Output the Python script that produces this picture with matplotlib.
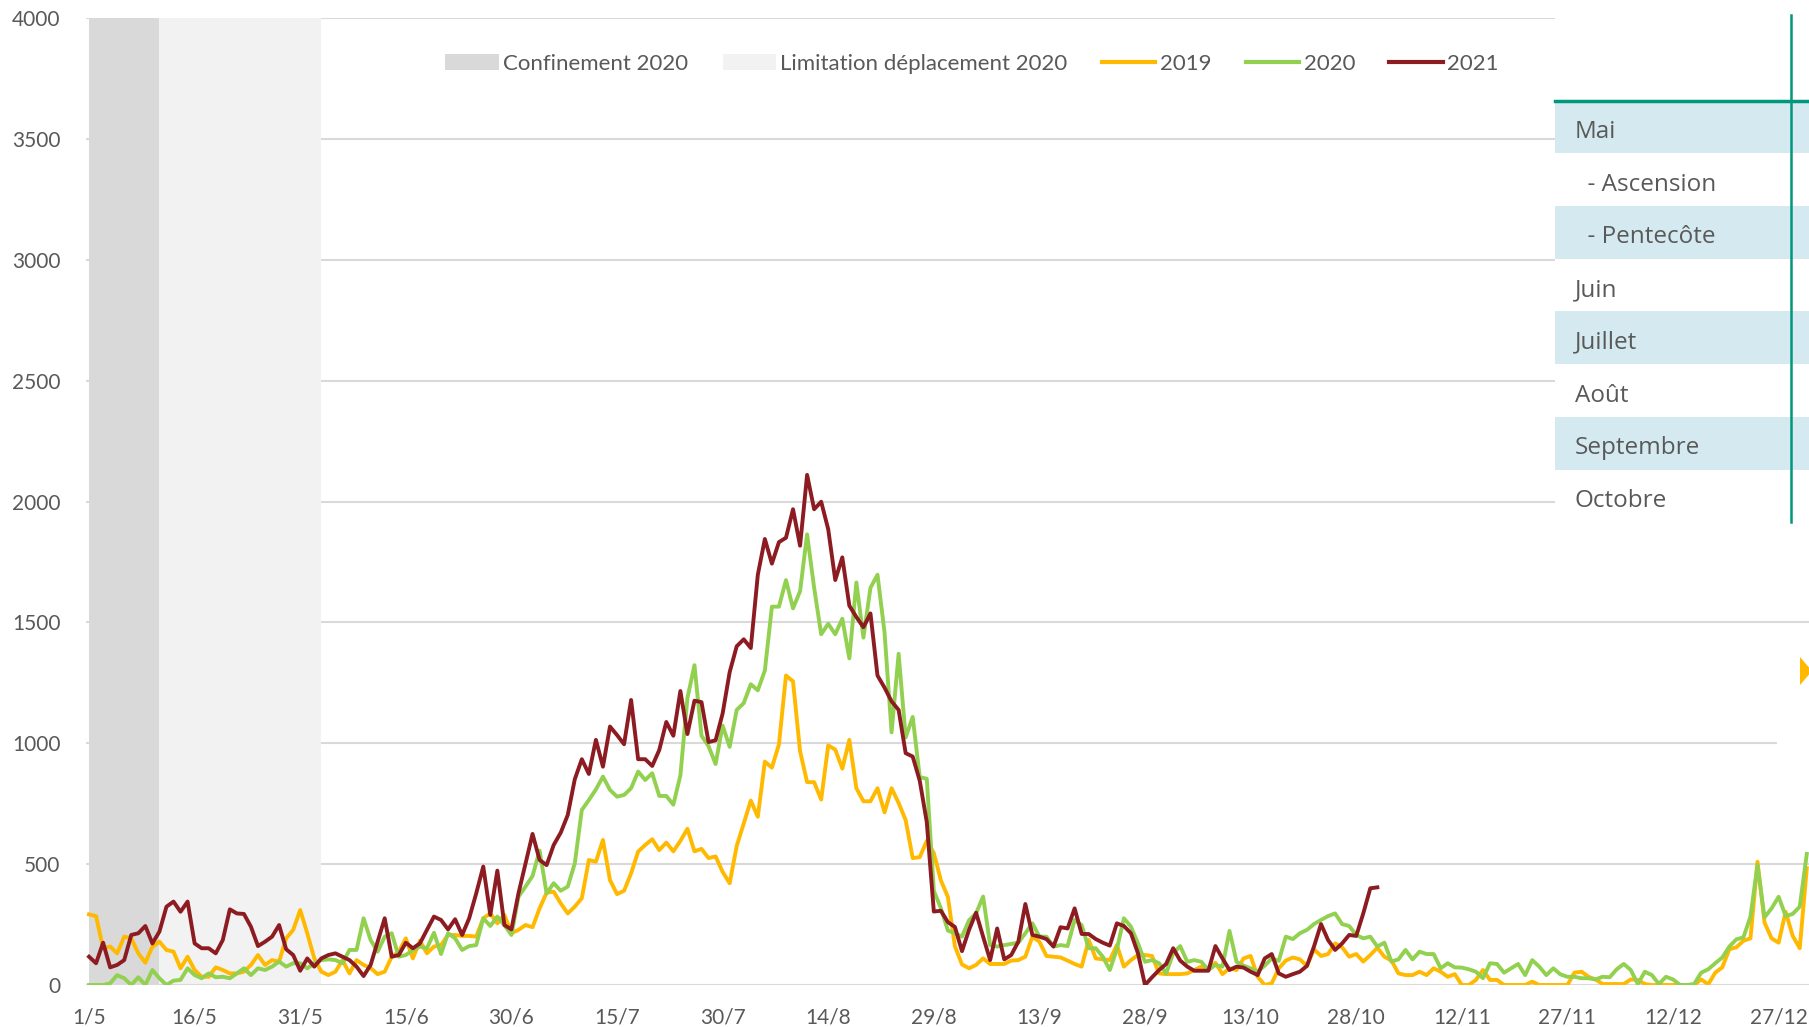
import matplotlib
matplotlib.use("Agg")
import matplotlib.pyplot as plt
from matplotlib.patches import Rectangle, Polygon, Patch
from matplotlib.lines import Line2D
import pandas as pd

# ---------- data -------------------------------------------------------------
dates = pd.date_range("2021-05-01", "2021-12-31", freq="D")

v2019 = [292, 285, 152, 159, 131, 200, 193, 131, 92, 159, 179, 145, 138, 69, 117, 62, 34, 34, 73, 62,
         48, 48, 55, 83, 124, 83, 103, 97, 193, 228, 310, 214, 110, 55, 41, 55, 103, 48, 103, 83,
         70, 45, 55, 117, 138, 193, 110, 183, 131, 159, 165, 207, 207, 203, 203, 200, 276, 296, 255, 290,
         214, 228, 248, 239, 317, 382, 386, 338, 296, 324, 359, 517, 510, 600, 434, 376, 390, 462, 552, 579,
         603, 558, 589, 553, 596, 646, 553, 563, 525, 532, 468, 421, 575, 668, 763, 696, 924, 899, 995, 1280,
         1256, 967, 839, 839, 767, 991, 974, 895, 1014, 814, 760, 760, 814, 714, 814, 753, 682, 525, 529, 596,
         546, 433, 364, 160, 85, 69, 83, 110, 87, 87, 87, 101, 103, 117, 200, 179, 120, 117, 114, 101,
         87, 76, 186, 110, 106, 103, 165, 76, 103, 124, 124, 120, 48, 45, 45, 45, 48, 62, 76, 62,
         92, 45, 69, 62, 110, 120, 34, 0, 7, 69, 101, 114, 106, 79, 148, 120, 128, 172, 156, 117,
         128, 97, 124, 154, 117, 101, 48, 41, 41, 55, 41, 69, 55, 34, 45, 0, 0, 21, 62, 21,
         21, 0, 0, 0, 0, 14, 0, 0, 0, 0, 0, 51, 55, 34, 23, 4, 4, 4, 4, 23,
         21, 4, 0, 0, 0, 0, 0, 0, 0, 23, 3, 51, 73, 148, 156, 183, 193, 510, 258, 193,
         175, 303, 203, 152, 483]

v2020 = [0, 0, 0, 7, 41, 28, 0, 32, 0, 62, 28, 0, 18, 21, 69, 41, 28, 48, 32, 34,
         28, 48, 69, 41, 69, 62, 76, 97, 76, 90, 90, 69, 90, 103, 106, 103, 90, 145, 145, 276,
         186, 138, 200, 214, 117, 124, 145, 159, 152, 216, 128, 214, 193, 145, 161, 165, 276, 244, 283, 248,
         207, 365, 407, 451, 556, 379, 421, 390, 407, 503, 724, 765, 809, 862, 807, 779, 786, 814, 883, 848,
         876, 782, 782, 746, 867, 1187, 1323, 1031, 988, 914, 1073, 985, 1138, 1166, 1244, 1219, 1301, 1565, 1565, 1675,
         1558, 1629, 1864, 1643, 1451, 1494, 1451, 1515, 1351, 1665, 1437, 1643, 1697, 1458, 1045, 1370, 1024, 1109, 860, 853,
         390, 318, 225, 214, 200, 268, 296, 366, 165, 159, 165, 170, 175, 214, 255, 200, 200, 159, 165, 161,
         269, 248, 152, 152, 117, 62, 148, 276, 241, 172, 96, 103, 90, 48, 131, 161, 96, 103, 96, 62,
         83, 76, 224, 96, 80, 69, 55, 80, 110, 100, 200, 190, 214, 228, 252, 269, 285, 296, 252, 244,
         207, 193, 200, 159, 175, 97, 106, 145, 106, 138, 128, 128, 69, 90, 73, 72, 65, 55, 28, 90,
         87, 51, 69, 87, 41, 103, 76, 41, 69, 44, 34, 34, 28, 28, 23, 34, 32, 65, 87, 62,
         4, 55, 41, 4, 34, 23, 0, 0, 4, 51, 65, 90, 114, 159, 189, 197, 283, 496, 280, 317,
         365, 285, 294, 324, 542]

v2021 = [117, 90, 175, 73, 83, 103, 207, 214, 244, 172, 221, 324, 345, 303, 345, 172, 152, 152, 131, 186,
         313, 296, 294, 241, 161, 179, 200, 248, 148, 124, 59, 110, 76, 110, 124, 131, 117, 103, 76, 37,
         83, 179, 276, 117, 124, 175, 152, 172, 228, 283, 269, 230, 272, 207, 276, 379, 490, 290, 473, 248,
         230, 379, 503, 625, 517, 496, 579, 630, 703, 851, 934, 873, 1014, 903, 1069, 1034, 996, 1179, 934, 934,
         906, 972, 1088, 1031, 1216, 1038, 1176, 1170, 1005, 1012, 1123, 1294, 1401, 1430, 1394, 1697, 1845, 1743, 1832, 1850,
         1968, 1817, 2110, 1968, 1999, 1885, 1675, 1769, 1569, 1522, 1480, 1537, 1280, 1230, 1173, 1138, 959, 945, 845, 674,
         304, 307, 260, 240, 140, 228, 299, 200, 103, 234, 106, 124, 179, 335, 207, 200, 190, 159, 239, 234,
         317, 211, 211, 190, 175, 163, 255, 244, 214, 131, 0, 32, 62, 87, 152, 101, 76, 59, 59, 59,
         161, 110, 62, 76, 72, 55, 41, 110, 128, 48, 34, 45, 55, 79, 159, 252, 186, 145, 172, 207,
         203, 296, 400, 404]

confinement = ("2021-05-01", "2021-05-11")
limitation = ("2021-05-11", "2021-06-03")
table_rows = ["Mai", "  - Ascension", "  - Pentecôte", "Juin", "Juillet", "Août", "Septembre", "Octobre"]

# ---------- style -------------------------------------------------------------
W, H = 1809, 1027
GREY = "#595959"
GRID = "#D9D9D9"
C19, C20, C21 = "#FFB900", "#92D050", "#8C1C21"
TEAL = "#00977A"
SHADE = "#D5EAF0"
plt.rcParams["font.family"] = ["Lato", "DejaVu Sans"]


def fx(x):
    return x / W


def fy(y):
    return 1 - y / H


fig = plt.figure(figsize=(W / 100, H / 100), dpi=100)
ax = fig.add_axes([fx(85.5), fy(985), fx(1810.3) - fx(85.5), fy(18) - fy(985)])

d0 = pd.Timestamp(dates[0])
ax.set_xlim(d0 - pd.Timedelta(hours=12), pd.Timestamp(dates[-1]) + pd.Timedelta(hours=12))
ax.set_ylim(0, 4000)

for yv in range(500, 4001, 500):
    ax.axhline(yv, color=GRID, lw=1.5, zorder=0.5)

ax.axvspan(pd.Timestamp(confinement[0]), pd.Timestamp(confinement[1]), color="#D9D9D9", lw=0, zorder=1)
ax.axvspan(pd.Timestamp(limitation[0]), pd.Timestamp(limitation[1]), color="#F2F2F2", lw=0, zorder=1)
ax.axhline(0, color=GRID, lw=1.5, zorder=1.5)

ax.plot(dates[:len(v2019)], v2019, color=C19, lw=2.8, zorder=3, solid_joinstyle="round")
ax.plot(dates[:len(v2020)], v2020, color=C20, lw=2.8, zorder=4, solid_joinstyle="round")
ax.plot(dates[:len(v2021)], v2021, color=C21, lw=2.8, zorder=5, solid_joinstyle="round")

ticks = dates[::15]
ax.set_xticks(ticks)
ax.set_xticklabels([f"{d.day}/{d.month}" for d in ticks])
ax.set_yticks(range(0, 4001, 500))
ax.tick_params(axis="both", length=0, labelsize=15, labelcolor=GREY)
ax.tick_params(axis="y", pad=18)
ax.tick_params(axis="x", pad=16)
for s in ax.spines.values():
    s.set_visible(False)

handles = [Patch(color="#D9D9D9", lw=0), Patch(color="#F2F2F2", lw=0),
           Line2D([], [], color=C19, lw=3), Line2D([], [], color=C20, lw=3), Line2D([], [], color=C21, lw=3)]
labels = ["Confinement 2020", "Limitation déplacement 2020", "2019", "2020", "2021"]
leg = fig.legend(handles, labels, loc="center", bbox_to_anchor=(fx(972), fy(64)), ncol=5, frameon=False,
                 fontsize=16, handlelength=2.4, handleheight=0.7, handletextpad=0.2, columnspacing=1.55)
for t in leg.get_texts():
    t.set_color(GREY)

# ---------- side panel (month table overlay) ---------------------------------
top, rh = 100.7, 52.7
fig.add_artist(Rectangle((fx(1555), fy(top + 8 * rh)), fx(W) - fx(1555), fy(0) - fy(top + 8 * rh),
                         transform=fig.transFigure, color="white", lw=0, zorder=5))
for i, name in enumerate(table_rows):
    y0 = top + i * rh
    if i % 2 == 0:
        fig.add_artist(Rectangle((fx(1555), fy(y0 + rh)), fx(W) - fx(1555), fy(y0) - fy(y0 + rh),
                                 transform=fig.transFigure, color=SHADE, lw=0, zorder=6))
    fig.text(fx(1575), fy(y0 + rh / 2 + 5), name, ha="left", va="center", fontsize=17.5, color=GREY,
             family=["Open Sans", "DejaVu Sans"], zorder=7)
fig.add_artist(Line2D([fx(1555), fx(W)], [fy(top), fy(top)], transform=fig.transFigure,
                      color=TEAL, lw=2.5, zorder=8))
fig.add_artist(Line2D([fx(1791), fx(1791)], [fy(15), fy(top + 8 * rh)], transform=fig.transFigure,
                      color=TEAL, lw=1.8, zorder=8))

# small white gap on the 1000 line and the orange slider marker at the right edge
fig.add_artist(Rectangle((fx(1777), fy(752)), fx(W) - fx(1777), fy(737) - fy(752),
                         transform=fig.transFigure, color="white", lw=0, zorder=5))
fig.add_artist(Polygon([(fx(1800), fy(657)), (fx(1800), fy(685)), (fx(1812), fy(671))],
                       transform=fig.transFigure, color=C19, lw=0, zorder=8))

fig.savefig("out.png", dpi=100)
